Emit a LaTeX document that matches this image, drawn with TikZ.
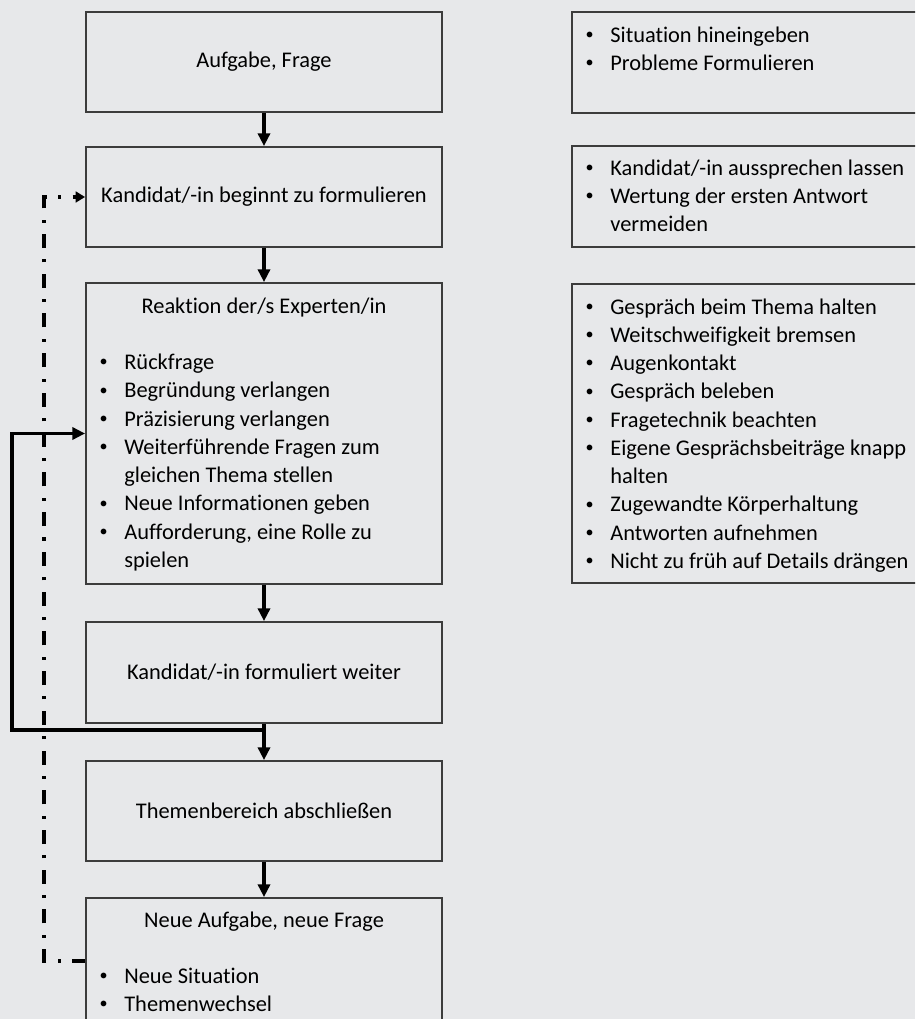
\documentclass[tikz,border=0pt]{standalone}
\usepackage{fontspec}
\setmainfont[Ligatures=NoCommon]{Carlito}
\usetikzlibrary{arrows.meta,calc}
\definecolor{bg}{RGB}{231,232,234}
\definecolor{edge}{RGB}{60,60,60}
\newcommand{\bul}{\raisebox{0.12em}{\scalebox{0.72}{\textbullet}}}
\newcommand{\bl}[1]{\hbox{\makebox[19.5pt][l]{\hspace*{1pt}\bul}#1}}
\newcommand{\cl}[1]{\hbox{\hspace*{19.5pt}#1}}
\newcommand{\blk}[1]{\vtop{\baselineskip=21.2pt #1}}
\begin{document}
\begin{tikzpicture}[x=0.75pt,y=-0.75pt,
  every node/.style={font=\fontsize{16.8pt}{21.2pt}\selectfont},
  box/.style={draw=edge, line width=1.4pt, inner sep=0pt, minimum width=267pt},
  rbox/.style={draw=edge, line width=1.4pt, inner sep=0pt, minimum width=268.5pt},
  txt/.style={inner sep=0pt, anchor=base west},
  flow/.style={line width=2.8pt, -{Triangle[length=9.5pt,width=9pt]}},
  dd/.style={line width=2.8pt, dash pattern=on 10.5pt off 8.5pt on 2.3pt off 8.5pt, dash phase=0.65pt, -{Triangle[length=7pt,width=8pt]}}
]
\fill[bg] (0,0) rectangle (915,1019);
\useasboundingbox (0,0) rectangle (915,1019);
\clip (0,0) rectangle (915,1019);

% left column
\node[box, minimum height=75pt] (b1) at (264,62) {Aufgabe, Frage};
\node[box, minimum height=75pt] (b2) at (264,197) {Kandidat/-in beginnt zu formulieren};
\node[box, minimum height=225.75pt] (b3) at (264,433.5) {};
\node[box, minimum height=75.75pt] (b4) at (264,672.5) {Kandidat/-in formuliert weiter};
\node[box, minimum height=75pt] (b5) at (264,811) {Themenbereich abschließen};
\node[box, minimum height=112.5pt] (b6) at (264,973) {};

\node[txt, anchor=base] (h3) at ($(b3.north)+(0,31)$) {Reaktion der/s Experten/in};
\node[txt] (t3) at ($(b3.north west)+(13,87.5)$) {\blk{%
  \bl{Rückfrage}
  \bl{Begründung verlangen}
  \bl{Präzisierung verlangen}
  \bl{Weiterführende Fragen zum}
  \cl{gleichen Thema stellen}
  \bl{Neue Informationen geben}
  \bl{Aufforderung, eine Rolle zu}
  \cl{spielen}}};

\node[txt, anchor=base] (h6) at ($(b6.north)+(0,30)$) {Neue Aufgabe, neue Frage};
\node[txt] (t6) at ($(b6.north west)+(13,86)$) {\blk{%
  \bl{Neue Situation}
  \bl{Themenwechsel}}};

% right column
\node[rbox, minimum height=75.75pt] (rA) at (751,62.5) {};
\node[rbox, minimum height=75.75pt] (rB) at (751,196.5) {};
\node[rbox, minimum height=224.25pt] (rC) at (751,433.5) {};

\node[txt] (tA) at ($(rA.north west)+(13,31)$) {\blk{%
  \bl{Situation hineingeben}
  \bl{Probleme Formulieren}}};
\node[txt] (tB) at ($(rB.north west)+(13,30)$) {\blk{%
  \bl{Kandidat/-in aussprechen lassen}
  \bl{Wertung der ersten Antwort}
  \cl{vermeiden}}};
\node[txt] (tC) at ($(rC.north west)+(13,31)$) {\blk{%
  \bl{Gespräch beim Thema halten}
  \bl{Weitschweifigkeit bremsen}
  \bl{Augenkontakt}
  \bl{Gespräch beleben}
  \bl{Fragetechnik beachten}
  \bl{Eigene Gesprächsbeiträge knapp}
  \cl{halten}
  \bl{Zugewandte Körperhaltung}
  \bl{Antworten aufnehmen}
  \bl{Nicht zu früh auf Details drängen}}};

% flow arrows
\draw[flow] (b1) -- (b2);
\draw[flow] (b2) -- (b3);
\draw[flow] (b3) -- (b4);
\draw[flow] (b4) -- (b5);
\draw[flow] (b5) -- (b6);

% feedback loop
\coordinate (j) at (264,730);
\draw[flow] (j) -- (12,730) |- (b3.west);

% dash-dot return
\coordinate (d0) at ($(b6.north west)+(0,64)$);
\draw[dd] (d0) -- ++(-41,0) |- (b2.west);
\end{tikzpicture}
\end{document}
